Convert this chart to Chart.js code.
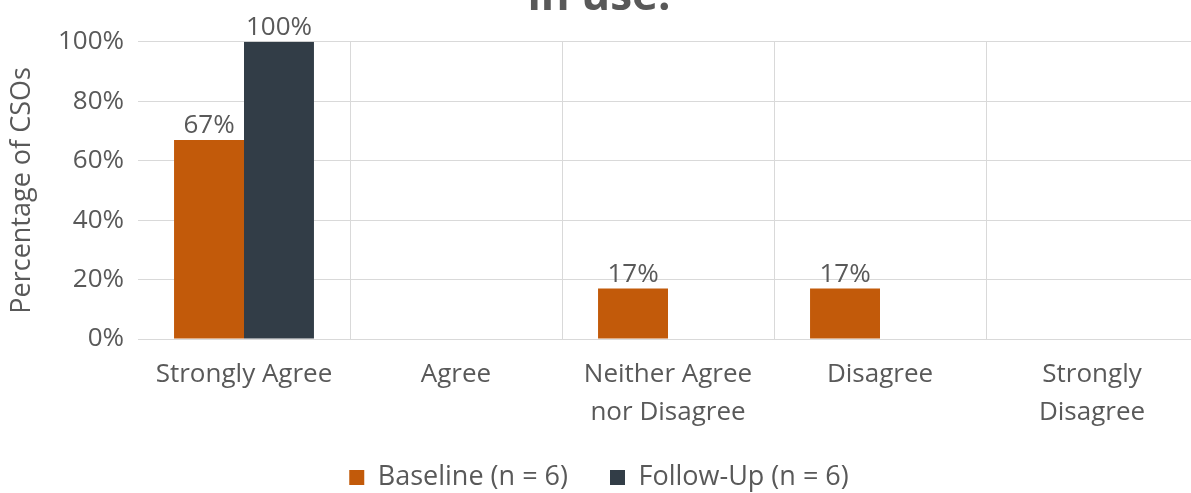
<!DOCTYPE html>
<html>
<head>
<meta charset="utf-8">
<script src="https://cdn.jsdelivr.net/npm/chart.js@4.4.1/dist/chart.umd.min.js"></script>
<style>
  html, body { margin: 0; padding: 0; background: #fff; overflow: hidden; }
  #wrap { position: relative; width: 1198px; height: 530px; margin-top: -29px; }
</style>
</head>
<body>
<div id="wrap"><canvas id="chartCanvas"></canvas></div>
<script>
// --- data ---
const categories = [
  "Strongly Agree",
  "Agree",
  ["Neither Agree", "nor Disagree"],
  "Disagree",
  ["Strongly", "Disagree"]
];
const baseline = [67, 0, 17, 17, 0];
const followUp = [100, 0, 0, 0, 0];
const seriesNames = ["Baseline (n = 6)", "Follow-Up (n = 6)"];
const yTicks = [0, 20, 40, 60, 80, 100];

const textGrey = "#595959";
const gridGrey = "#d9d9d9";
const font = "'Open Sans', 'Noto Sans', sans-serif";
const fs = 26;

// value labels on top of bars (skip zeros, like the original)
const barLabels = {
  id: "barLabels",
  afterDatasetsDraw(chart) {
    const { ctx } = chart;
    ctx.save();
    ctx.font = `${fs}px ${font}`;
    ctx.fillStyle = textGrey;
    ctx.textAlign = "center";
    ctx.textBaseline = "bottom";
    chart.data.datasets.forEach((ds, i) => {
      const meta = chart.getDatasetMeta(i);
      meta.data.forEach((bar, j) => {
        const v = ds.data[j];
        if (!v) return;
        ctx.fillText(v + "%", bar.x, bar.y - 1);
      });
    });
    ctx.restore();
  }
};

const canvas = document.getElementById("chartCanvas");

new Chart(canvas, {
  type: "bar",
  data: {
    labels: categories,
    datasets: [
      { label: seriesNames[0], data: baseline, backgroundColor: "#c25a0a" },
      { label: seriesNames[1], data: followUp, backgroundColor: "#323d47" }
    ]
  },
  options: {
    responsive: true,
    maintainAspectRatio: false,
    animation: false,
    layout: { padding: { left: 0, right: 0, top: 0, bottom: 0 } },
    datasets: { bar: { categoryPercentage: 0.66, barPercentage: 1.0 } },
    plugins: {
      title: {
        display: true,
        text: "in use.",
        color: textGrey,
        font: { family: font, size: 44, weight: "bold" },
        padding: { top: 0, bottom: 18 }
      },
      legend: {
        position: "bottom",
        labels: {
          color: textGrey,
          font: { family: font, size: 27 },
          boxWidth: 15,
          boxHeight: 15,
          padding: 15,
          // a bit more room between the two entries, like the original
          generateLabels: chart => {
            const items = Chart.defaults.plugins.legend.labels.generateLabels(chart);
            items[0].text += "\u2003";
            return items;
          }
        }
      },
      tooltip: { enabled: false }
    },
    scales: {
      x: {
        grid: {
          color: ctx => (ctx.index === 0 ? "rgba(0,0,0,0)" : gridGrey),
          drawTicks: false,
          offset: true
        },
        border: { display: false },
        ticks: {
          color: textGrey,
          font: { family: font, size: fs, lineHeight: 1.46 },
          padding: 17,
          maxRotation: 0
        }
      },
      y: {
        min: 0,
        max: 100,
        afterBuildTicks: scale => { scale.ticks = yTicks.map(v => ({ value: v })); },
        afterFit: scale => { scale.width = 138; },
        grid: { color: gridGrey, drawTicks: false },
        border: { display: false },
        ticks: {
          color: textGrey,
          font: { family: font, size: fs },
          padding: 14,
          callback: v => v + "%"
        },
        title: {
          display: true,
          text: "Percentage of CSOs",
          color: textGrey,
          font: { family: font, size: 27 },
          padding: { top: 6, bottom: 0 }
        }
      }
    }
  },
  plugins: [barLabels]
});
</script>
</body>
</html>
